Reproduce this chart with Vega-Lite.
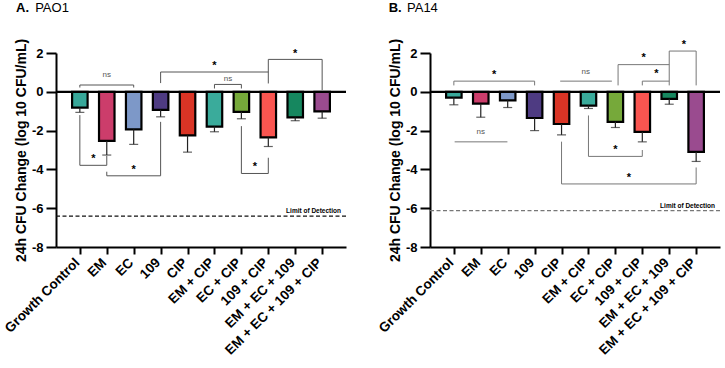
{
  "$schema": "https://vega.github.io/schema/vega-lite/v6.json",
  "padding": {"left": 2, "top": 2, "right": 0, "bottom": 0},
  "spacing": 84,
  "bounds": "flush",
  "datasets": {
    "bars": [
      {"panel": "A", "i": 0, "group": "Growth Control", "mean": -0.82, "low": -1.06},
      {"panel": "A", "i": 1, "group": "EM", "mean": -2.53, "low": -3.26},
      {"panel": "A", "i": 2, "group": "EC", "mean": -1.94, "low": -2.71},
      {"panel": "A", "i": 3, "group": "109", "mean": -0.93, "low": -1.29},
      {"panel": "A", "i": 4, "group": "CIP", "mean": -2.25, "low": -3.11},
      {"panel": "A", "i": 5, "group": "EM + CIP", "mean": -1.79, "low": -2.06},
      {"panel": "A", "i": 6, "group": "EC + CIP", "mean": -1.03, "low": -1.39},
      {"panel": "A", "i": 7, "group": "109 + CIP", "mean": -2.35, "low": -2.82},
      {"panel": "A", "i": 8, "group": "EM + EC + 109", "mean": -1.32, "low": -1.49},
      {"panel": "A", "i": 9, "group": "EM + EC + 109 + CIP", "mean": -1.01, "low": -1.36},
      {"panel": "B", "i": 0, "group": "Growth Control", "mean": -0.30, "low": -0.67},
      {"panel": "B", "i": 1, "group": "EM", "mean": -0.61, "low": -1.31},
      {"panel": "B", "i": 2, "group": "EC", "mean": -0.44, "low": -0.81},
      {"panel": "B", "i": 3, "group": "109", "mean": -1.35, "low": -2.0},
      {"panel": "B", "i": 4, "group": "CIP", "mean": -1.66, "low": -2.22},
      {"panel": "B", "i": 5, "group": "EM + CIP", "mean": -0.71, "low": -0.86},
      {"panel": "B", "i": 6, "group": "EC + CIP", "mean": -1.55, "low": -1.84},
      {"panel": "B", "i": 7, "group": "109 + CIP", "mean": -2.07, "low": -2.58},
      {"panel": "B", "i": 8, "group": "EM + EC + 109", "mean": -0.36, "low": -0.64},
      {"panel": "B", "i": 9, "group": "EM + EC + 109 + CIP", "mean": -3.10, "low": -3.59}
    ],
    "segs": [
      {"panel": "A", "x": 0, "x2": 2, "y": 0.35, "y2": 0.35},
      {"panel": "A", "x": 0, "x2": 0, "y": 0.35, "y2": 0.22},
      {"panel": "A", "x": 2, "x2": 2, "y": 0.35, "y2": 0.22},
      {"panel": "A", "x": 3, "x2": 7, "y": 1.02, "y2": 1.02},
      {"panel": "A", "x": 3, "x2": 3, "y": 1.02, "y2": 0.45},
      {"panel": "A", "x": 7, "x2": 7, "y": 1.67, "y2": 0.43},
      {"panel": "A", "x": 7, "x2": 9, "y": 1.67, "y2": 1.67},
      {"panel": "A", "x": 9, "x2": 9, "y": 1.67, "y2": 0.09},
      {"panel": "A", "x": 5, "x2": 6, "y": 0.38, "y2": 0.38},
      {"panel": "A", "x": 5, "x2": 5, "y": 0.38, "y2": 0.17},
      {"panel": "A", "x": 6, "x2": 6, "y": 0.38, "y2": 0.17},
      {"panel": "A", "x": 0, "x2": 1, "y": -3.79, "y2": -3.79},
      {"panel": "A", "x": 0, "x2": 0, "y": -1.2, "y2": -3.79},
      {"panel": "A", "x": 1, "x2": 1, "y": -3.3, "y2": -3.79},
      {"panel": "A", "x": 1, "x2": 3, "y": -4.33, "y2": -4.33},
      {"panel": "A", "x": 1, "x2": 1, "y": -4.12, "y2": -4.33},
      {"panel": "A", "x": 3, "x2": 3, "y": -1.55, "y2": -4.33},
      {"panel": "A", "x": 6, "x2": 7, "y": -4.21, "y2": -4.21},
      {"panel": "A", "x": 6, "x2": 6, "y": -1.77, "y2": -4.21},
      {"panel": "A", "x": 7, "x2": 7, "y": -3.4, "y2": -4.21},
      {"panel": "B", "x": 0, "x2": 3, "y": 0.55, "y2": 0.55},
      {"panel": "B", "x": 0, "x2": 0, "y": 0.55, "y2": 0.33},
      {"panel": "B", "x": 3, "x2": 3, "y": 0.55, "y2": 0.33},
      {"panel": "B", "x": 3.95, "x2": 5.87, "y": 0.55, "y2": 0.55},
      {"panel": "B", "x": 6.1, "x2": 8, "y": 1.4, "y2": 1.4},
      {"panel": "B", "x": 6.1, "x2": 6.1, "y": 1.4, "y2": 0.33},
      {"panel": "B", "x": 8, "x2": 8, "y": 2.1, "y2": 0.33},
      {"panel": "B", "x": 7, "x2": 8, "y": 0.55, "y2": 0.55},
      {"panel": "B", "x": 7, "x2": 7, "y": 0.55, "y2": 0.33},
      {"panel": "B", "x": 8, "x2": 9, "y": 2.1, "y2": 2.1},
      {"panel": "B", "x": 9, "x2": 9, "y": 2.1, "y2": 0.33},
      {"panel": "B", "x": 0.03, "x2": 1.99, "y": -2.58, "y2": -2.58},
      {"panel": "B", "x": 5, "x2": 7, "y": -3.33, "y2": -3.33},
      {"panel": "B", "x": 5, "x2": 5, "y": -1.22, "y2": -3.33},
      {"panel": "B", "x": 7, "x2": 7, "y": -3.0, "y2": -3.33},
      {"panel": "B", "x": 4, "x2": 9, "y": -4.75, "y2": -4.75},
      {"panel": "B", "x": 4, "x2": 4, "y": -2.57, "y2": -4.75},
      {"panel": "B", "x": 9, "x2": 9, "y": -3.9, "y2": -4.75}
    ],
    "notes": [
      {"panel": "A", "x": 1, "y": 0.86, "text": "ns"},
      {"panel": "A", "x": 5, "y": 1.47, "text": "*"},
      {"panel": "A", "x": 8, "y": 2.1, "text": "*"},
      {"panel": "A", "x": 5.5, "y": 0.65, "text": "ns"},
      {"panel": "A", "x": 0.5, "y": -3.31, "text": "*"},
      {"panel": "A", "x": 2, "y": -3.87, "text": "*"},
      {"panel": "A", "x": 6.5, "y": -3.73, "text": "*"},
      {"panel": "B", "x": 1.5, "y": 1.01, "text": "*"},
      {"panel": "B", "x": 4.9, "y": 1.01, "text": "ns"},
      {"panel": "B", "x": 7.05, "y": 1.88, "text": "*"},
      {"panel": "B", "x": 7.52, "y": 1.07, "text": "*"},
      {"panel": "B", "x": 8.54, "y": 2.56, "text": "*"},
      {"panel": "B", "x": 1.0, "y": -2.09, "text": "ns"},
      {"panel": "B", "x": 6.0, "y": -2.83, "text": "*"},
      {"panel": "B", "x": 6.5, "y": -4.29, "text": "*"}
    ],
    "lod": [
      {"panel": "A", "y": -6.41, "label": "Limit of Detection"},
      {"panel": "B", "y": -6.12, "label": "Limit of Detection"}
    ],
    "heads": [
      {"panel": "A", "tag": "A.", "strain": "PAO1"},
      {"panel": "B", "tag": "B.", "strain": "PA14"}
    ]
  },
  "hconcat": [
    {
      "width": 290,
      "height": 194,
      "layer": [
        {
          "data": {"name": "bars"},
          "transform": [{"filter": "datum.panel === 'A'"}],
          "mark": {"type": "bar", "width": 15.5, "stroke": "#000", "strokeWidth": 2.2, "opacity": 1},
          "encoding": {
            "x": {"field": "i", "type": "quantitative", "scale": {"domain": [-0.7, 9.7], "nice": false, "zero": false},
              "axis": {"values": [0, 1, 2, 3, 4, 5, 6, 7, 8, 9], "labelOverlap": false, "labelExpr": "['Growth Control','EM','EC','109','CIP','EM + CIP','EC + CIP','109 + CIP','EM + EC + 109','EM + EC + 109 + CIP'][datum.value]", "title": null}},
            "y": {"field": "mean", "type": "quantitative", "scale": {"domain": [-8, 2], "nice": false, "zero": false},
              "axis": {"values": [-8, -6, -4, -2, 0, 2], "labelOverlap": false, "labelExpr": "datum.value + ''", "title": "24h CFU Change (log 10 CFU/mL)"}},
            "y2": {"datum": 0},
            "color": {
              "field": "group", "type": "nominal", "legend": null,
              "scale": {
                "domain": ["Growth Control", "EM", "EC", "109", "CIP", "EM + CIP", "EC + CIP", "109 + CIP", "EM + EC + 109", "EM + EC + 109 + CIP"],
                "range": ["#38a89a", "#cc3d6b", "#7d98c8", "#4e3b82", "#d93425", "#3aab9b", "#76a93a", "#fa5550", "#16875f", "#9a4b8f"]
              }
            }
          }
        },
        {
          "data": {"name": "lod"},
          "transform": [{"filter": "datum.panel === 'A'"}],
          "mark": {"type": "rule", "strokeDash": [4, 2.5], "strokeWidth": 1.3, "color": "#111"},
          "encoding": {
            "y": {"field": "y", "type": "quantitative", "scale": {"domain": [-8, 2], "nice": false, "zero": false},
              "axis": {"values": [-8, -6, -4, -2, 0, 2], "labelOverlap": false, "labelExpr": "datum.value + ''", "title": "24h CFU Change (log 10 CFU/mL)"}}
          }
        },
        {
          "data": {"name": "lod"},
          "transform": [{"filter": "datum.panel === 'A'"}],
          "mark": {"type": "text", "align": "right", "baseline": "alphabetic", "dy": -3, "fontSize": 6.5, "fontWeight": "bold", "color": "#000"},
          "encoding": {
            "x": {"datum": 9.7, "type": "quantitative", "scale": {"domain": [-0.7, 9.7], "nice": false, "zero": false},
              "axis": {"values": [0, 1, 2, 3, 4, 5, 6, 7, 8, 9], "labelOverlap": false, "labelExpr": "['Growth Control','EM','EC','109','CIP','EM + CIP','EC + CIP','109 + CIP','EM + EC + 109','EM + EC + 109 + CIP'][datum.value]", "title": null}},
            "y": {"field": "y", "type": "quantitative", "scale": {"domain": [-8, 2], "nice": false, "zero": false},
              "axis": {"values": [-8, -6, -4, -2, 0, 2], "labelOverlap": false, "labelExpr": "datum.value + ''", "title": "24h CFU Change (log 10 CFU/mL)"}},
            "text": {"field": "label"}
          }
        },
        {
          "data": {"name": "bars"},
          "transform": [{"filter": "datum.panel === 'A'"}],
          "mark": {"type": "rule", "color": "#222", "strokeWidth": 1.2},
          "encoding": {
            "x": {"field": "i", "type": "quantitative", "scale": {"domain": [-0.7, 9.7], "nice": false, "zero": false},
              "axis": {"values": [0, 1, 2, 3, 4, 5, 6, 7, 8, 9], "labelOverlap": false, "labelExpr": "['Growth Control','EM','EC','109','CIP','EM + CIP','EC + CIP','109 + CIP','EM + EC + 109','EM + EC + 109 + CIP'][datum.value]", "title": null}},
            "y": {"field": "mean", "type": "quantitative", "scale": {"domain": [-8, 2], "nice": false, "zero": false},
              "axis": {"values": [-8, -6, -4, -2, 0, 2], "labelOverlap": false, "labelExpr": "datum.value + ''", "title": "24h CFU Change (log 10 CFU/mL)"}},
            "y2": {"field": "low"}
          }
        },
        {
          "data": {"name": "bars"},
          "transform": [{"filter": "datum.panel === 'A'"}],
          "mark": {"type": "tick", "orient": "horizontal", "size": 9, "thickness": 1.2, "color": "#222"},
          "encoding": {
            "x": {"field": "i", "type": "quantitative", "scale": {"domain": [-0.7, 9.7], "nice": false, "zero": false},
              "axis": {"values": [0, 1, 2, 3, 4, 5, 6, 7, 8, 9], "labelOverlap": false, "labelExpr": "['Growth Control','EM','EC','109','CIP','EM + CIP','EC + CIP','109 + CIP','EM + EC + 109','EM + EC + 109 + CIP'][datum.value]", "title": null}},
            "y": {"field": "low", "type": "quantitative", "scale": {"domain": [-8, 2], "nice": false, "zero": false},
              "axis": {"values": [-8, -6, -4, -2, 0, 2], "labelOverlap": false, "labelExpr": "datum.value + ''", "title": "24h CFU Change (log 10 CFU/mL)"}}
          }
        },
        {
          "data": {"name": "heads"},
          "transform": [{"filter": "datum.panel === 'A'"}],
          "mark": {"type": "rule", "color": "#000", "strokeWidth": 2.2},
          "encoding": {
            "y": {"datum": 0, "type": "quantitative", "scale": {"domain": [-8, 2], "nice": false, "zero": false},
              "axis": {"values": [-8, -6, -4, -2, 0, 2], "labelOverlap": false, "labelExpr": "datum.value + ''", "title": "24h CFU Change (log 10 CFU/mL)"}}
          }
        },
        {
          "data": {"name": "segs"},
          "transform": [{"filter": "datum.panel === 'A'"}],
          "mark": {"type": "rule", "color": "#555", "strokeWidth": 1},
          "encoding": {
            "x": {"field": "x", "type": "quantitative", "scale": {"domain": [-0.7, 9.7], "nice": false, "zero": false},
              "axis": {"values": [0, 1, 2, 3, 4, 5, 6, 7, 8, 9], "labelOverlap": false, "labelExpr": "['Growth Control','EM','EC','109','CIP','EM + CIP','EC + CIP','109 + CIP','EM + EC + 109','EM + EC + 109 + CIP'][datum.value]", "title": null}},
            "x2": {"field": "x2"},
            "y": {"field": "y", "type": "quantitative", "scale": {"domain": [-8, 2], "nice": false, "zero": false},
              "axis": {"values": [-8, -6, -4, -2, 0, 2], "labelOverlap": false, "labelExpr": "datum.value + ''", "title": "24h CFU Change (log 10 CFU/mL)"}},
            "y2": {"field": "y2"}
          }
        },
        {
          "data": {"name": "notes"},
          "transform": [{"filter": "datum.panel === 'A' && datum.text === '*'"}],
          "mark": {"type": "text", "fontSize": 11, "fontWeight": "bold", "color": "#000", "baseline": "middle", "dy": 3},
          "encoding": {
            "x": {"field": "x", "type": "quantitative", "scale": {"domain": [-0.7, 9.7], "nice": false, "zero": false},
              "axis": {"values": [0, 1, 2, 3, 4, 5, 6, 7, 8, 9], "labelOverlap": false, "labelExpr": "['Growth Control','EM','EC','109','CIP','EM + CIP','EC + CIP','109 + CIP','EM + EC + 109','EM + EC + 109 + CIP'][datum.value]", "title": null}},
            "y": {"field": "y", "type": "quantitative", "scale": {"domain": [-8, 2], "nice": false, "zero": false},
              "axis": {"values": [-8, -6, -4, -2, 0, 2], "labelOverlap": false, "labelExpr": "datum.value + ''", "title": "24h CFU Change (log 10 CFU/mL)"}},
            "text": {"field": "text"}
          }
        },
        {
          "data": {"name": "notes"},
          "transform": [{"filter": "datum.panel === 'A' && datum.text === 'ns'"}],
          "mark": {"type": "text", "fontSize": 8, "color": "#555", "baseline": "middle"},
          "encoding": {
            "x": {"field": "x", "type": "quantitative", "scale": {"domain": [-0.7, 9.7], "nice": false, "zero": false},
              "axis": {"values": [0, 1, 2, 3, 4, 5, 6, 7, 8, 9], "labelOverlap": false, "labelExpr": "['Growth Control','EM','EC','109','CIP','EM + CIP','EC + CIP','109 + CIP','EM + EC + 109','EM + EC + 109 + CIP'][datum.value]", "title": null}},
            "y": {"field": "y", "type": "quantitative", "scale": {"domain": [-8, 2], "nice": false, "zero": false},
              "axis": {"values": [-8, -6, -4, -2, 0, 2], "labelOverlap": false, "labelExpr": "datum.value + ''", "title": "24h CFU Change (log 10 CFU/mL)"}},
            "text": {"field": "text"}
          }
        },
        {
          "data": {"name": "heads"},
          "transform": [{"filter": "datum.panel === 'A'"}],
          "mark": {"type": "text", "fontSize": 13, "fontWeight": "bold", "align": "left", "baseline": "alphabetic", "color": "#000"},
          "encoding": {
            "x": {"datum": -2.37, "type": "quantitative", "scale": {"domain": [-0.7, 9.7], "nice": false, "zero": false},
              "axis": {"values": [0, 1, 2, 3, 4, 5, 6, 7, 8, 9], "labelOverlap": false, "labelExpr": "['Growth Control','EM','EC','109','CIP','EM + CIP','EC + CIP','109 + CIP','EM + EC + 109','EM + EC + 109 + CIP'][datum.value]", "title": null}},
            "y": {"datum": 4.1, "type": "quantitative", "scale": {"domain": [-8, 2], "nice": false, "zero": false},
              "axis": {"values": [-8, -6, -4, -2, 0, 2], "labelOverlap": false, "labelExpr": "datum.value + ''", "title": "24h CFU Change (log 10 CFU/mL)"}},
            "text": {"field": "tag"}
          }
        },
        {
          "data": {"name": "heads"},
          "transform": [{"filter": "datum.panel === 'A'"}],
          "mark": {"type": "text", "fontSize": 13, "align": "left", "baseline": "alphabetic", "color": "#000"},
          "encoding": {
            "x": {"datum": -1.66, "type": "quantitative", "scale": {"domain": [-0.7, 9.7], "nice": false, "zero": false},
              "axis": {"values": [0, 1, 2, 3, 4, 5, 6, 7, 8, 9], "labelOverlap": false, "labelExpr": "['Growth Control','EM','EC','109','CIP','EM + CIP','EC + CIP','109 + CIP','EM + EC + 109','EM + EC + 109 + CIP'][datum.value]", "title": null}},
            "y": {"datum": 4.1, "type": "quantitative", "scale": {"domain": [-8, 2], "nice": false, "zero": false},
              "axis": {"values": [-8, -6, -4, -2, 0, 2], "labelOverlap": false, "labelExpr": "datum.value + ''", "title": "24h CFU Change (log 10 CFU/mL)"}},
            "text": {"field": "strain"}
          }
        }
      ]
    },
    {
      "width": 290,
      "height": 194,
      "layer": [
        {
          "data": {"name": "bars"},
          "transform": [{"filter": "datum.panel === 'B'"}],
          "mark": {"type": "bar", "width": 15.5, "stroke": "#000", "strokeWidth": 2.2, "opacity": 1},
          "encoding": {
            "x": {"field": "i", "type": "quantitative", "scale": {"domain": [-0.7, 9.7], "nice": false, "zero": false},
              "axis": {"values": [0, 1, 2, 3, 4, 5, 6, 7, 8, 9], "labelOverlap": false, "labelExpr": "['Growth Control','EM','EC','109','CIP','EM + CIP','EC + CIP','109 + CIP','EM + EC + 109','EM + EC + 109 + CIP'][datum.value]", "title": null}},
            "y": {"field": "mean", "type": "quantitative", "scale": {"domain": [-8, 2], "nice": false, "zero": false},
              "axis": {"values": [-8, -6, -4, -2, 0, 2], "labelOverlap": false, "labelExpr": "datum.value + ''", "title": "24h CFU Change (log 10 CFU/mL)"}},
            "y2": {"datum": 0},
            "color": {
              "field": "group", "type": "nominal", "legend": null,
              "scale": {
                "domain": ["Growth Control", "EM", "EC", "109", "CIP", "EM + CIP", "EC + CIP", "109 + CIP", "EM + EC + 109", "EM + EC + 109 + CIP"],
                "range": ["#38a89a", "#cc3d6b", "#7d98c8", "#4e3b82", "#d93425", "#3aab9b", "#76a93a", "#fa5550", "#16875f", "#9a4b8f"]
              }
            }
          }
        },
        {
          "data": {"name": "lod"},
          "transform": [{"filter": "datum.panel === 'B'"}],
          "mark": {"type": "rule", "strokeDash": [4, 2.5], "strokeWidth": 1.3, "color": "#777"},
          "encoding": {
            "y": {"field": "y", "type": "quantitative", "scale": {"domain": [-8, 2], "nice": false, "zero": false},
              "axis": {"values": [-8, -6, -4, -2, 0, 2], "labelOverlap": false, "labelExpr": "datum.value + ''", "title": "24h CFU Change (log 10 CFU/mL)"}}
          }
        },
        {
          "data": {"name": "lod"},
          "transform": [{"filter": "datum.panel === 'B'"}],
          "mark": {"type": "text", "align": "right", "baseline": "alphabetic", "dy": -3, "fontSize": 6.5, "fontWeight": "bold", "color": "#000"},
          "encoding": {
            "x": {"datum": 9.7, "type": "quantitative", "scale": {"domain": [-0.7, 9.7], "nice": false, "zero": false},
              "axis": {"values": [0, 1, 2, 3, 4, 5, 6, 7, 8, 9], "labelOverlap": false, "labelExpr": "['Growth Control','EM','EC','109','CIP','EM + CIP','EC + CIP','109 + CIP','EM + EC + 109','EM + EC + 109 + CIP'][datum.value]", "title": null}},
            "y": {"field": "y", "type": "quantitative", "scale": {"domain": [-8, 2], "nice": false, "zero": false},
              "axis": {"values": [-8, -6, -4, -2, 0, 2], "labelOverlap": false, "labelExpr": "datum.value + ''", "title": "24h CFU Change (log 10 CFU/mL)"}},
            "text": {"field": "label"}
          }
        },
        {
          "data": {"name": "bars"},
          "transform": [{"filter": "datum.panel === 'B'"}],
          "mark": {"type": "rule", "color": "#222", "strokeWidth": 1.2},
          "encoding": {
            "x": {"field": "i", "type": "quantitative", "scale": {"domain": [-0.7, 9.7], "nice": false, "zero": false},
              "axis": {"values": [0, 1, 2, 3, 4, 5, 6, 7, 8, 9], "labelOverlap": false, "labelExpr": "['Growth Control','EM','EC','109','CIP','EM + CIP','EC + CIP','109 + CIP','EM + EC + 109','EM + EC + 109 + CIP'][datum.value]", "title": null}},
            "y": {"field": "mean", "type": "quantitative", "scale": {"domain": [-8, 2], "nice": false, "zero": false},
              "axis": {"values": [-8, -6, -4, -2, 0, 2], "labelOverlap": false, "labelExpr": "datum.value + ''", "title": "24h CFU Change (log 10 CFU/mL)"}},
            "y2": {"field": "low"}
          }
        },
        {
          "data": {"name": "bars"},
          "transform": [{"filter": "datum.panel === 'B'"}],
          "mark": {"type": "tick", "orient": "horizontal", "size": 9, "thickness": 1.2, "color": "#222"},
          "encoding": {
            "x": {"field": "i", "type": "quantitative", "scale": {"domain": [-0.7, 9.7], "nice": false, "zero": false},
              "axis": {"values": [0, 1, 2, 3, 4, 5, 6, 7, 8, 9], "labelOverlap": false, "labelExpr": "['Growth Control','EM','EC','109','CIP','EM + CIP','EC + CIP','109 + CIP','EM + EC + 109','EM + EC + 109 + CIP'][datum.value]", "title": null}},
            "y": {"field": "low", "type": "quantitative", "scale": {"domain": [-8, 2], "nice": false, "zero": false},
              "axis": {"values": [-8, -6, -4, -2, 0, 2], "labelOverlap": false, "labelExpr": "datum.value + ''", "title": "24h CFU Change (log 10 CFU/mL)"}}
          }
        },
        {
          "data": {"name": "heads"},
          "transform": [{"filter": "datum.panel === 'B'"}],
          "mark": {"type": "rule", "color": "#000", "strokeWidth": 2.2},
          "encoding": {
            "y": {"datum": 0, "type": "quantitative", "scale": {"domain": [-8, 2], "nice": false, "zero": false},
              "axis": {"values": [-8, -6, -4, -2, 0, 2], "labelOverlap": false, "labelExpr": "datum.value + ''", "title": "24h CFU Change (log 10 CFU/mL)"}}
          }
        },
        {
          "data": {"name": "segs"},
          "transform": [{"filter": "datum.panel === 'B'"}],
          "mark": {"type": "rule", "color": "#777", "strokeWidth": 1},
          "encoding": {
            "x": {"field": "x", "type": "quantitative", "scale": {"domain": [-0.7, 9.7], "nice": false, "zero": false},
              "axis": {"values": [0, 1, 2, 3, 4, 5, 6, 7, 8, 9], "labelOverlap": false, "labelExpr": "['Growth Control','EM','EC','109','CIP','EM + CIP','EC + CIP','109 + CIP','EM + EC + 109','EM + EC + 109 + CIP'][datum.value]", "title": null}},
            "x2": {"field": "x2"},
            "y": {"field": "y", "type": "quantitative", "scale": {"domain": [-8, 2], "nice": false, "zero": false},
              "axis": {"values": [-8, -6, -4, -2, 0, 2], "labelOverlap": false, "labelExpr": "datum.value + ''", "title": "24h CFU Change (log 10 CFU/mL)"}},
            "y2": {"field": "y2"}
          }
        },
        {
          "data": {"name": "notes"},
          "transform": [{"filter": "datum.panel === 'B' && datum.text === '*'"}],
          "mark": {"type": "text", "fontSize": 11, "fontWeight": "bold", "color": "#000", "baseline": "middle", "dy": 3},
          "encoding": {
            "x": {"field": "x", "type": "quantitative", "scale": {"domain": [-0.7, 9.7], "nice": false, "zero": false},
              "axis": {"values": [0, 1, 2, 3, 4, 5, 6, 7, 8, 9], "labelOverlap": false, "labelExpr": "['Growth Control','EM','EC','109','CIP','EM + CIP','EC + CIP','109 + CIP','EM + EC + 109','EM + EC + 109 + CIP'][datum.value]", "title": null}},
            "y": {"field": "y", "type": "quantitative", "scale": {"domain": [-8, 2], "nice": false, "zero": false},
              "axis": {"values": [-8, -6, -4, -2, 0, 2], "labelOverlap": false, "labelExpr": "datum.value + ''", "title": "24h CFU Change (log 10 CFU/mL)"}},
            "text": {"field": "text"}
          }
        },
        {
          "data": {"name": "notes"},
          "transform": [{"filter": "datum.panel === 'B' && datum.text === 'ns'"}],
          "mark": {"type": "text", "fontSize": 8, "color": "#555", "baseline": "middle"},
          "encoding": {
            "x": {"field": "x", "type": "quantitative", "scale": {"domain": [-0.7, 9.7], "nice": false, "zero": false},
              "axis": {"values": [0, 1, 2, 3, 4, 5, 6, 7, 8, 9], "labelOverlap": false, "labelExpr": "['Growth Control','EM','EC','109','CIP','EM + CIP','EC + CIP','109 + CIP','EM + EC + 109','EM + EC + 109 + CIP'][datum.value]", "title": null}},
            "y": {"field": "y", "type": "quantitative", "scale": {"domain": [-8, 2], "nice": false, "zero": false},
              "axis": {"values": [-8, -6, -4, -2, 0, 2], "labelOverlap": false, "labelExpr": "datum.value + ''", "title": "24h CFU Change (log 10 CFU/mL)"}},
            "text": {"field": "text"}
          }
        },
        {
          "data": {"name": "heads"},
          "transform": [{"filter": "datum.panel === 'B'"}],
          "mark": {"type": "text", "fontSize": 13, "fontWeight": "bold", "align": "left", "baseline": "alphabetic", "color": "#000"},
          "encoding": {
            "x": {"datum": -2.42, "type": "quantitative", "scale": {"domain": [-0.7, 9.7], "nice": false, "zero": false},
              "axis": {"values": [0, 1, 2, 3, 4, 5, 6, 7, 8, 9], "labelOverlap": false, "labelExpr": "['Growth Control','EM','EC','109','CIP','EM + CIP','EC + CIP','109 + CIP','EM + EC + 109','EM + EC + 109 + CIP'][datum.value]", "title": null}},
            "y": {"datum": 4.1, "type": "quantitative", "scale": {"domain": [-8, 2], "nice": false, "zero": false},
              "axis": {"values": [-8, -6, -4, -2, 0, 2], "labelOverlap": false, "labelExpr": "datum.value + ''", "title": "24h CFU Change (log 10 CFU/mL)"}},
            "text": {"field": "tag"}
          }
        },
        {
          "data": {"name": "heads"},
          "transform": [{"filter": "datum.panel === 'B'"}],
          "mark": {"type": "text", "fontSize": 13, "align": "left", "baseline": "alphabetic", "color": "#000"},
          "encoding": {
            "x": {"datum": -1.74, "type": "quantitative", "scale": {"domain": [-0.7, 9.7], "nice": false, "zero": false},
              "axis": {"values": [0, 1, 2, 3, 4, 5, 6, 7, 8, 9], "labelOverlap": false, "labelExpr": "['Growth Control','EM','EC','109','CIP','EM + CIP','EC + CIP','109 + CIP','EM + EC + 109','EM + EC + 109 + CIP'][datum.value]", "title": null}},
            "y": {"datum": 4.1, "type": "quantitative", "scale": {"domain": [-8, 2], "nice": false, "zero": false},
              "axis": {"values": [-8, -6, -4, -2, 0, 2], "labelOverlap": false, "labelExpr": "datum.value + ''", "title": "24h CFU Change (log 10 CFU/mL)"}},
            "text": {"field": "strain"}
          }
        }
      ]
    }
  ],
  "config": {
    "view": {"stroke": null},
    "font": "Liberation Sans",
    "background": "#ffffff",
    "axis": {"labelOverlap": false, "grid": false, "labelColor": "#000", "domainColor": "#000", "tickColor": "#000", "domainWidth": 2, "tickWidth": 2, "titleColor": "#000"},
    "axisX": {"labelAngle": -45, "labelAlign": "right", "labelBaseline": "alphabetic", "labelFontSize": 13.5, "labelFontWeight": "bold", "labelPadding": 9, "labelFlush": false, "tickSize": 7},
    "axisY": {"labelFontSize": 13, "labelFontWeight": "bold", "labelPadding": 3, "tickSize": 10, "titleFontSize": 14, "titleFontWeight": "bold", "titlePadding": 3}
  }
}
